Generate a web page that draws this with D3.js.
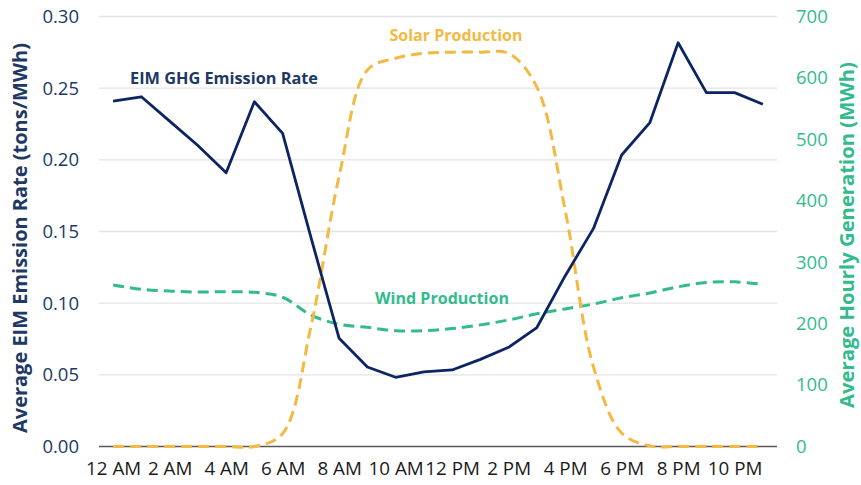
<!DOCTYPE html>
<html>
<head>
<meta charset="utf-8">
<script src="https://cdn.jsdelivr.net/npm/d3@7"></script>
<style>
  body { margin: 0; background: #fff; }
  svg { display: block; font-family: "Open Sans", sans-serif; }
</style>
</head>
<body>
<div id="chart"></div>
<script>
// hours of the day, 0 = 12 AM
const hours = d3.range(24);
const tickHours = [0, 2, 4, 6, 8, 10, 12, 14, 16, 18, 20, 22];
const tickLabels = ["12 AM", "2 AM", "4 AM", "6 AM", "8 AM", "10 AM", "12 PM", "2 PM", "4 PM", "6 PM", "8 PM", "10 PM"];

// tons/MWh (left axis)
const emissionRate = [0.241, 0.244, 0.227, 0.210, 0.191, 0.2405, 0.2185, 0.146, 0.0755, 0.0555,
  0.0483, 0.052, 0.0534, 0.0608, 0.0692, 0.0830, 0.119, 0.152, 0.2034, 0.226,
  0.2817, 0.2469, 0.2469, 0.2388];

// MWh (right axis)
const solarProduction = [0, 0, 0, 0, 0, 0, 21, 195, 440, 613,
  632, 640, 642, 642, 640, 585, 385, 130, 22, 1,
  0, 0, 0, 0];
const windProduction = [263, 256, 253, 251.5, 252, 251, 243, 214, 199, 194,
  188.5, 188.5, 192, 198, 206, 216, 224, 232, 242, 250,
  260, 267, 268, 264];

const leftTicks = [0, 0.05, 0.10, 0.15, 0.20, 0.25, 0.30];
const rightTicks = [0, 100, 200, 300, 400, 500, 600, 700];

const width = 861, height = 485;
const margin = {top: 16.5, right: 84, bottom: 38.5, left: 99};
const navy = "#0c2461", navyText = "#203864", solarColor = "#f4b942", windColor = "#33bb8e";

const svg = d3.select("#chart").append("svg")
    .attr("width", width)
    .attr("height", height);

const x = d3.scalePoint()
    .domain(hours)
    .range([margin.left, width - margin.right])
    .padding(0.5);

const yLeft = d3.scaleLinear()
    .domain([0, 0.30])
    .range([height - margin.bottom, margin.top]);

const yRight = d3.scaleLinear()
    .domain([0, 700])
    .range([height - margin.bottom, margin.top]);

// gridlines
svg.append("g")
    .selectAll("line")
    .data(leftTicks.slice(1))
    .join("line")
    .attr("x1", margin.left)
    .attr("x2", width - margin.right)
    .attr("y1", d => yLeft(d))
    .attr("y2", d => yLeft(d))
    .attr("stroke", "#e3e3e3")
    .attr("stroke-width", 1.3);

// baseline
svg.append("line")
    .attr("x1", margin.left)
    .attr("x2", width - margin.right)
    .attr("y1", yLeft(0))
    .attr("y2", yLeft(0))
    .attr("stroke", "#595959")
    .attr("stroke-width", 1.3);

// left axis
const leftAxis = svg.append("g")
    .attr("transform", `translate(${margin.left - 20},0)`)
    .call(d3.axisLeft(yLeft).tickValues(leftTicks).tickFormat(d3.format(".2f")).tickSize(0).tickPadding(0));
leftAxis.select(".domain").remove();
leftAxis.selectAll("text")
    .attr("fill", navyText)
    .attr("font-size", "18.5px")
    .attr("font-family", "Open Sans, sans-serif");

// right axis
const rightAxis = svg.append("g")
    .attr("transform", `translate(${width - margin.right + 19},0)`)
    .call(d3.axisRight(yRight).tickValues(rightTicks).tickSize(0).tickPadding(0));
rightAxis.select(".domain").remove();
rightAxis.selectAll("text")
    .attr("fill", windColor)
    .attr("font-size", "18.5px")
    .attr("font-family", "Open Sans, sans-serif");

// x axis
const xAxis = svg.append("g")
    .attr("transform", `translate(0,${height - margin.bottom})`)
    .call(d3.axisBottom(x).tickValues(tickHours).tickFormat((d, i) => tickLabels[i]).tickSize(0).tickPadding(15));
xAxis.select(".domain").remove();
xAxis.selectAll("text")
    .attr("fill", "#1a1a1a")
    .attr("font-size", "18.8px")
    .attr("font-family", "Open Sans, sans-serif");

// shrink/grow a text to a target length by font size
function fitText(sel, target) {
    const len = sel.node().getComputedTextLength();
    const fs = parseFloat(sel.attr("font-size"));
    sel.attr("font-size", (fs * target / len).toFixed(2) + "px");
}

// axis titles
svg.append("text")
    .attr("transform", "translate(27,238) rotate(-90)")
    .attr("text-anchor", "middle")
    .attr("font-size", "19px")
    .attr("font-weight", "bold")
    .attr("fill", navyText)
    .text("Average EIM Emission Rate (tons/MWh)")
    .call(fitText, 390);

svg.append("text")
    .attr("transform", "translate(854,235) rotate(-90)")
    .attr("text-anchor", "middle")
    .attr("font-size", "19px")
    .attr("font-weight", "bold")
    .attr("fill", windColor)
    .text("Average Hourly Generation (MWh)")
    .call(fitText, 346);

// lines
const solarLine = d3.line()
    .x((d, i) => x(hours[i]))
    .y(d => yRight(d))
    .curve(d3.curveCatmullRom.alpha(0.5));

const windLine = d3.line()
    .x((d, i) => x(hours[i]))
    .y(d => yRight(d))
    .curve(d3.curveCatmullRom.alpha(0.5));

const emissionLine = d3.line()
    .x((d, i) => x(hours[i]))
    .y(d => yLeft(d));

svg.append("path")
    .datum(windProduction)
    .attr("d", windLine)
    .attr("fill", "none")
    .attr("stroke", windColor)
    .attr("stroke-width", 3)
    .attr("stroke-dasharray", "11,6");

svg.append("path")
    .datum(solarProduction)
    .attr("d", solarLine)
    .attr("fill", "none")
    .attr("stroke", solarColor)
    .attr("stroke-width", 3)
    .attr("stroke-dasharray", "11,6");

svg.append("path")
    .datum(emissionRate)
    .attr("d", emissionLine)
    .attr("fill", "none")
    .attr("stroke", navy)
    .attr("stroke-width", 2.8)
    .attr("stroke-linejoin", "round");

// series labels
svg.append("text")
    .attr("x", 224).attr("y", 84)
    .attr("text-anchor", "middle")
    .attr("font-size", "16px").attr("font-weight", "bold")
    .attr("fill", navyText)
    .text("EIM GHG Emission Rate")
    .call(fitText, 188);

svg.append("text")
    .attr("x", 456).attr("y", 41)
    .attr("text-anchor", "middle")
    .attr("font-size", "16px").attr("font-weight", "bold")
    .attr("fill", solarColor)
    .text("Solar Production")
    .call(fitText, 133);

svg.append("text")
    .attr("x", 442).attr("y", 304)
    .attr("text-anchor", "middle")
    .attr("font-size", "16px").attr("font-weight", "bold")
    .attr("fill", windColor)
    .text("Wind Production")
    .call(fitText, 134);
</script>
</body>
</html>
